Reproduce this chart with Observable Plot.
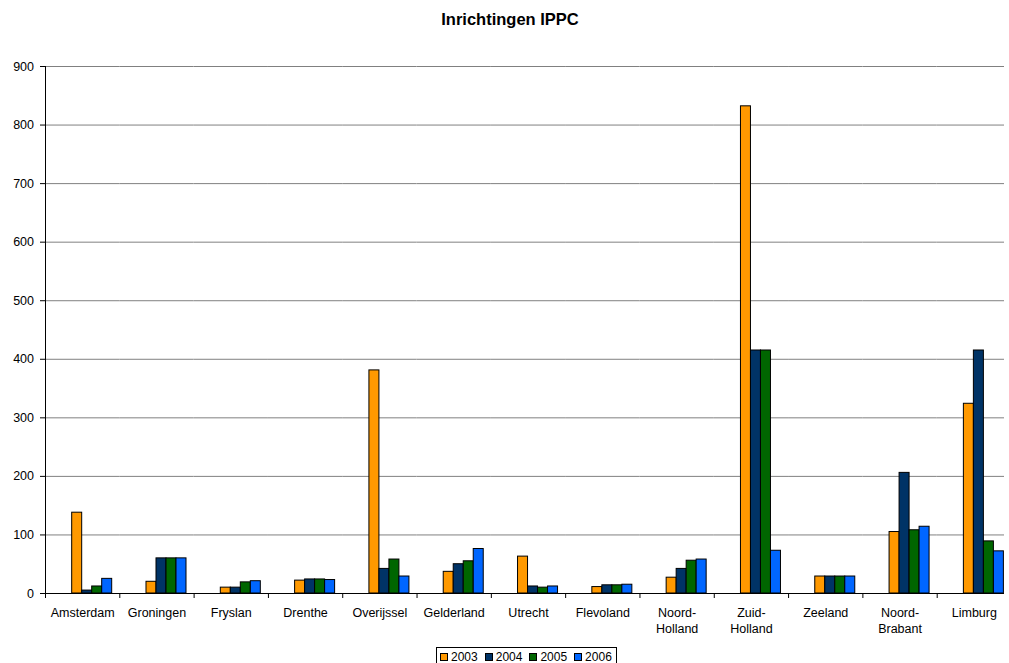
<!DOCTYPE html>
<html>
<head>
<meta charset="utf-8">
<script src="https://cdn.jsdelivr.net/npm/d3@7"></script>
<script src="https://cdn.jsdelivr.net/npm/@observablehq/plot@0.6"></script>
<style>
  html, body { margin: 0; padding: 0; background: #fff; }
  body { width: 1009px; height: 663px; position: relative; overflow: hidden; font-family: "Liberation Sans", Arial, sans-serif; }
  #title { position: absolute; left: 0; top: 9px; width: 1020px; text-align: center; font-weight: bold; font-size: 16.5px; line-height: 20px; color: #000; }
  #chart { position: absolute; left: 0; top: 28px; }
  #legend { position: absolute; left: 436px; top: 647px; border: 1px solid #000; height: 18px; padding: 0 3px; display: flex; align-items: center; font-size: 12px; line-height: 16px; background: #fff; }
  #legend .item { display: flex; align-items: center; margin-right: 7px; }
  #legend .item:last-child { margin-right: 1px; }
  #legend .sw { width: 6px; height: 6px; border: 1px solid #000; margin-right: 3px; }
</style>
</head>
<body>
<div id="title">Inrichtingen IPPC</div>
<div id="chart"></div>
<div id="legend"></div>
<script>
const regions = ["Amsterdam", "Groningen", "Fryslan", "Drenthe", "Overijssel", "Gelderland", "Utrecht", "Flevoland", "Noord-Holland", "Zuid-Holland", "Zeeland", "Noord-Brabant", "Limburg"];
const years = ["2003", "2004", "2005", "2006"];
const v2003 = [138, 20, 10, 22, 381, 37, 63, 11, 27, 832, 29, 105, 324];
const v2004 = [5, 60, 10, 24, 42, 50, 12, 14, 42, 415, 29, 206, 415];
const v2005 = [12, 60, 19, 24, 58, 55, 10, 14, 56, 415, 29, 108, 89];
const v2006 = [25, 60, 21, 23, 29, 76, 12, 15, 58, 73, 29, 114, 72];
const yearColors = ["#FF9900", "#003366", "#006600", "#0066FF"];
const yTicks = [0, 100, 200, 300, 400, 500, 600, 700, 800, 900];

const series = [v2003, v2004, v2005, v2006];
const data = [];
regions.forEach((r, i) => years.forEach((yr, j) => data.push({region: r, year: yr, value: series[j][i]})));

const plot = Plot.plot({
  width: 1004,
  height: 612,
  marginTop: 38,
  marginBottom: 47,
  marginLeft: 45,
  marginRight: 0,
  style: {fontFamily: "'Liberation Sans', Arial, sans-serif", fontSize: "12.5px", background: "white", color: "black", overflow: "hidden"},
  fx: {domain: regions, padding: 0, range: [45, 1011], round: false, axis: null},
  x: {domain: years, paddingInner: 0, paddingOuter: 1.715, align: 0.778, round: false, axis: null},
  y: {domain: [0, 900], axis: null},
  color: {domain: years, range: yearColors},
  marks: [
    Plot.gridY(yTicks, {stroke: "#808080", strokeOpacity: 1, strokeWidth: 1}),
    Plot.barY(data, {fx: "region", x: "year", y: "value", fill: "year", stroke: "black", strokeWidth: 1, inset: 0}),
    Plot.axisY(yTicks, {tickSize: 5, tickPadding: 6.5, tickFormat: d => String(d), fontSize: 12.5, label: null}),
    Plot.axisFx({anchor: "bottom", tickSize: 0, tickPadding: 12, fontSize: 12.5, lineHeight: 1.3, label: null, tickFormat: d => d.replace("-", "-\n")})
  ]
});

document.getElementById("chart").appendChild(plot);

// axis lines and category boundary ticks, positioned through the plot's scales
const fxS = plot.scale("fx");
const yS = plot.scale("y");
const y0 = yS.apply(0), yTop = yS.apply(900);
const svg = d3.select(plot);
const g = svg.append("g").attr("stroke", "black").attr("stroke-width", 1);
const left = fxS.apply(regions[0]);
g.append("line").attr("x1", left + 0.5).attr("x2", left + 0.5).attr("y1", yTop).attr("y2", y0 + 4);
g.append("line").attr("x1", left).attr("x2", 1004).attr("y1", y0 + 0.5).attr("y2", y0 + 0.5);
const bounds = regions.map(r => fxS.apply(r)).concat([fxS.apply(regions[regions.length - 1]) + fxS.bandwidth]);
bounds.forEach(b => g.append("line").attr("x1", b + 0.5).attr("x2", b + 0.5).attr("y1", y0).attr("y2", y0 + 5));

// legend
const legend = document.getElementById("legend");
years.forEach((yr, j) => {
  const it = document.createElement("div");
  it.className = "item";
  const sw = document.createElement("div");
  sw.className = "sw";
  sw.style.background = yearColors[j];
  const t = document.createElement("span");
  t.textContent = yr;
  it.appendChild(sw); it.appendChild(t);
  legend.appendChild(it);
});
</script>
</body>
</html>
